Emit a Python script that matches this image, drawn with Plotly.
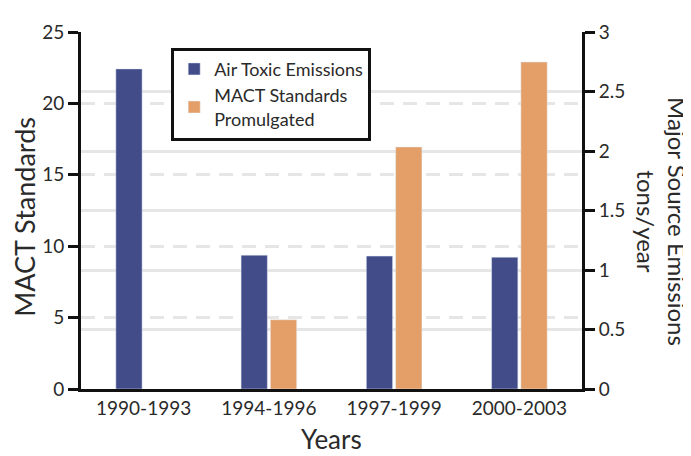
import plotly.graph_objects as go

# Chart data
years = ["1990-1993", "1994-1996", "1997-1999", "2000-2003"]
air_toxic_emissions = [2.69, 1.125, 1.117, 1.108]   # right axis, tons/year
mact_standards = [None, 4.85, 16.95, 22.9]           # left axis, count

left_ticks = [0, 5, 10, 15, 20, 25]
right_ticks = [0, 0.5, 1, 1.5, 2, 2.5, 3]
right_tick_text = ["0", "0.5", "1", "1.5", "2", "2.5", "3"]

BLUE = "#424C89"
ORANGE = "#E39F67"
GRID = "#E6E6E6"
TEXT = "#2a2a2a"
FONT = "Lato, Open Sans, sans-serif"

fig = go.Figure()
fig.add_trace(go.Bar(
    x=years, y=air_toxic_emissions, yaxis="y2",
    name="Air Toxic Emissions", marker_color=BLUE,
    width=0.21, offset=-0.222,
))
fig.add_trace(go.Bar(
    x=years, y=mact_standards, yaxis="y",
    name="MACT Standards<br>Promulgated", marker_color=ORANGE,
    width=0.21, offset=0.012,
))

# page body adds an 8px margin, so the figure is 8px smaller than the window
fig.update_layout(
    width=683, height=448,
    margin=dict(l=73, r=109, t=20, b=67),
    paper_bgcolor="white", plot_bgcolor="white",
    font=dict(family=FONT, color=TEXT),
    barmode="overlay",
    showlegend=True,
    legend=dict(
        x=0.18, y=0.956, xanchor="left", yanchor="top",
        bordercolor="#111", borderwidth=3, bgcolor="white",
        font=dict(size=18, color=TEXT), tracegroupgap=4,
    ),
    xaxis=dict(
        type="category", showline=True, linecolor="#111", linewidth=3,
        ticks="", tickfont=dict(size=19, color=TEXT), showgrid=False,
    ),
    yaxis=dict(
        range=[0, 25], tickvals=left_ticks, showline=True, linecolor="#111",
        linewidth=3, ticks="outside", ticklen=10, tickwidth=3, tickcolor="#111",
        tickfont=dict(size=19, color=TEXT), showgrid=True, gridcolor=GRID,
        gridwidth=3, griddash="14px,9px", zeroline=False,
    ),
    yaxis2=dict(
        range=[0, 3], tickvals=right_ticks, ticktext=right_tick_text,
        overlaying="y", side="right", showline=True, linecolor="#111",
        linewidth=3, ticks="outside", ticklen=10, tickwidth=3, tickcolor="#111",
        tickfont=dict(size=19, color=TEXT), showgrid=True, gridcolor=GRID,
        gridwidth=3, zeroline=False,
    ),
    annotations=[
        dict(text="MACT Standards", xref="paper", yref="paper",
             x=-0.112, y=0.482, xanchor="center", yanchor="middle",
             textangle=-90, showarrow=False,
             font=dict(size=27, color=TEXT)),
        dict(text="Major Source Emissions<br>tons/year", xref="paper", yref="paper",
             x=1.16, y=0.47, xanchor="center", yanchor="middle",
             textangle=90, showarrow=False,
             font=dict(size=24, color=TEXT)),
        dict(text="Years", xref="paper", yref="paper",
             x=0.5, y=-0.14, xanchor="center", yanchor="middle",
             showarrow=False, font=dict(size=26, color=TEXT)),
    ],
)

fig.write_html("out.html")
